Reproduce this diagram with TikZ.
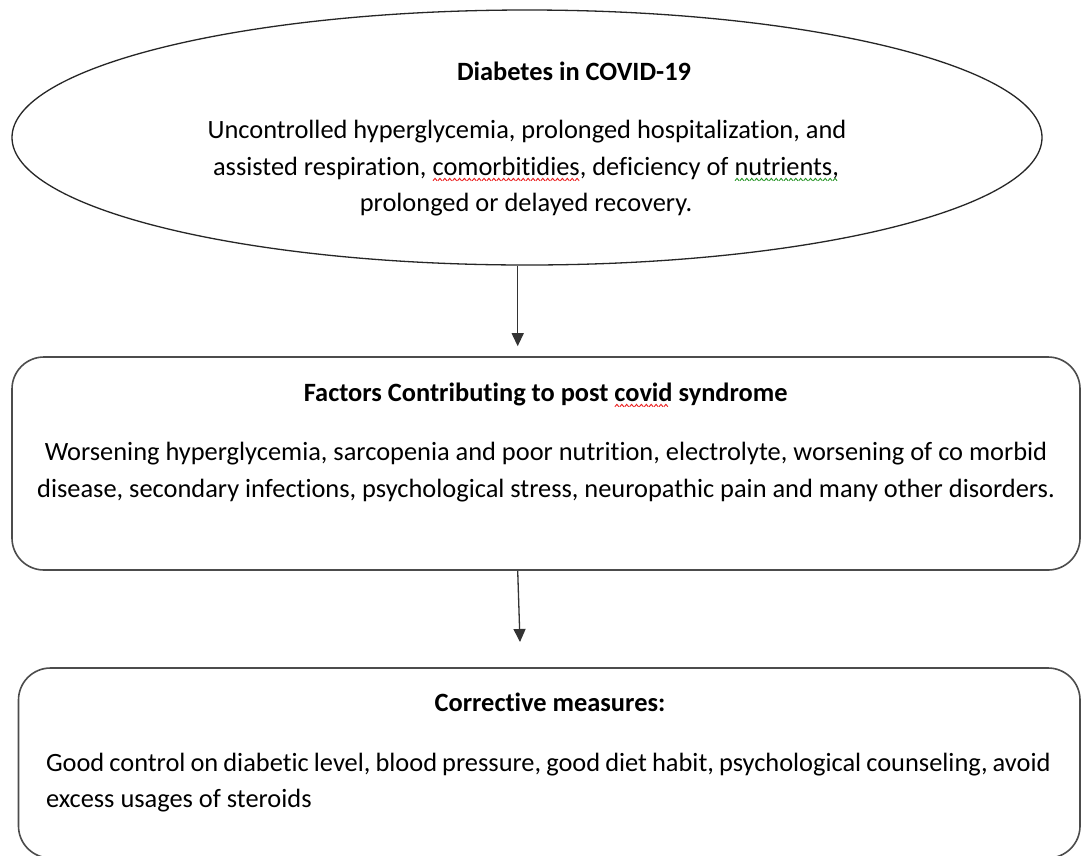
\documentclass[tikz,border=0pt]{standalone}
\usepackage{fontspec}
\setmainfont{Carlito}[Ligatures={NoCommon,NoContextual}]
\usetikzlibrary{shapes.geometric,arrows.meta}
\newsavebox\redwbox
\newsavebox\greenwbox
\newcommand\makewave[2]{\sbox#1{\pgfpicture\pgfsetlinewidth{0.9pt}\color{#2}\pgfpathmoveto{\pgfpoint{0pt}{0pt}}\pgfpathlineto{\pgfpoint{2pt}{2.4pt}}\pgfpathlineto{\pgfpoint{4pt}{0pt}}\pgfusepath{stroke}\endpgfpicture}}
\newcommand\wavedword[2]{\setbox0\hbox{#2}\rlap{\lower5.5pt\hbox to \wd0{\leaders\copy#1\hfill}}\box0\relax}
\newcommand\redwave[1]{\wavedword{\redwbox}{#1}}
\newcommand\greenwave[1]{\wavedword{\greenwbox}{#1}}
\definecolor{wavered}{RGB}{235,30,30}
\definecolor{wavegreen}{RGB}{40,150,40}
\begin{document}
\makewave{\redwbox}{wavered}
\makewave{\greenwbox}{wavegreen}
\begin{tikzpicture}[x=1pt,y=-1pt,
  txt/.style={inner sep=0pt,outer sep=0pt,anchor=base,font=\fontsize{26.4}{37}\selectfont},
  hd/.style={txt,font=\fontsize{26.4}{37}\selectfont\bfseries},
  frame/.style={draw=black!70,line width=1.6pt,rounded corners=32pt,inner sep=0pt},
  arr/.style={draw=black!80,line width=1.3pt,-{Triangle[width=12pt,length=13pt]}}]
\useasboundingbox[fill=white] (0,0) rectangle (1081,855);
% shapes
\node[ellipse,draw=black!85,line width=1.3pt,minimum width=1030pt,minimum height=255pt,inner sep=0pt] (e) at (527,137.5) {};
\node[frame,rectangle,minimum width=1068pt,minimum height=213pt] (b2) at (546,463.5) {};
\node[frame,rectangle,minimum width=1061.5pt,minimum height=190pt] (b3) at (549.25,763) {};
% texts
\node[hd] (h1) at (574,80) {Diabetes in COVID-19};
\node[txt] (l1) at (527,138.3) {Uncontrolled hyperglycemia, prolonged hospitalization, and};
\node[txt] (l2) at (526,175.7) {assisted respiration, \redwave{comorbitidies}, deficiency of \greenwave{nutrients,}};
\node[txt] (l3) at (526,211.7) {prolonged or delayed recovery.};
\node[hd] (h2) at (545.7,401.7) {Factors Contributing to post \redwave{covid} syndrome};
\node[txt] (m1) at (546,460) {Worsening hyperglycemia, sarcopenia and poor nutrition, electrolyte, worsening of co morbid};
\node[txt] (m2) at (546,497.3) {disease, secondary infections, psychological stress, neuropathic pain and many other disorders.};
\node[hd] (h3) at (550,711.7) {Corrective measures:};
\node[txt,anchor=base west] (n1) at (46,771.7) {\spaceskip=0.85\fontdimen2\font Good control on diabetic level, blood pressure, good diet habit, psychological counseling, avoid};
\node[txt,anchor=base west] (n2) at (46,807.3) {excess usages of steroids};
% connectors
\coordinate (a1x) at (517.7,0);
\coordinate (a2e) at (520,642);
\draw[arr,shorten >=10pt] (e.south -| a1x) -- (b2.north -| a1x);
\draw[arr] (b2.south -| a1x) -- (a2e);
\end{tikzpicture}
\end{document}
